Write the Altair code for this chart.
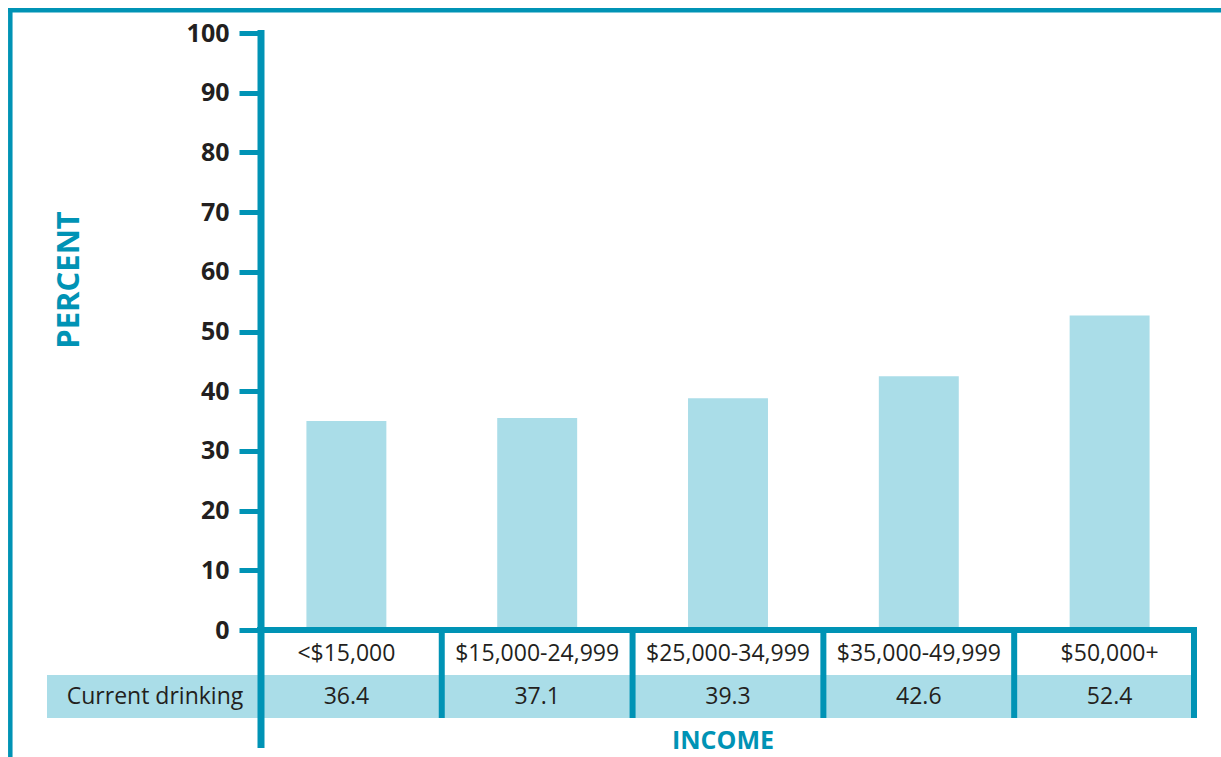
import altair as alt
import pandas as pd

# ---- data ----
categories = ["<$15,000", "$15,000-24,999", "$25,000-34,999", "$35,000-49,999", "$50,000+"]
bar_heights = [35.0, 35.5, 38.8, 42.5, 52.7]        # bar tops as drawn
table_values = ["36.4", "37.1", "39.3", "42.6", "52.4"]  # values printed in the table row
row_label = "Current drinking"
y_ticks = [0, 10, 20, 30, 40, 50, 60, 70, 80, 90, 100]

TEAL = "#0093B5"
LIGHT = "#AADDE8"
TEXT = "#231F20"
FONT = "Open Sans"

df = pd.DataFrame({
    "category": categories,
    "value": bar_heights,
    "label": table_values,
    "idx": list(range(len(categories))),
})

W, H = 934, 597
base = alt.Chart(df)
xs = alt.Scale(paddingInner=0.581, paddingOuter=0.238)
X = alt.X("category:N", sort=categories, scale=xs, axis=None)

# light blue table row
row_bg = base.mark_rect(color=LIGHT).encode(
    x=alt.value(-214), x2=alt.value(W), y=alt.value(642), y2=alt.value(685)
).transform_filter("datum.idx == 0")

bars = base.mark_bar(color=LIGHT).encode(
    x=X,
    y=alt.Y("value:Q", scale=alt.Scale(domain=[0, 100], nice=False),
            axis=alt.Axis(values=y_ticks, domain=False, grid=False, title=None,
                          tickColor=TEAL, tickWidth=5, tickSize=22,
                          labelFont=FONT, labelFontWeight="bold", labelFontSize=25,
                          labelColor=TEXT, labelPadding=10)),
)

# table separators between columns
seps = base.mark_rule(color=TEAL, strokeWidth=6, xOffset=55.4).encode(
    x=alt.X("category:N", sort=categories, scale=xs, axis=None, bandPosition=1),
    y=alt.value(H), y2=alt.value(685),
).transform_filter("datum.idx < 4")

right_border = base.mark_rule(color=TEAL, strokeWidth=6).encode(
    x=alt.value(W - 1), y=alt.value(H - 3), y2=alt.value(685)
).transform_filter("datum.idx == 0")

baseline = base.mark_rule(color=TEAL, strokeWidth=6).encode(
    x=alt.value(-4), x2=alt.value(W + 2), y=alt.value(H)
).transform_filter("datum.idx == 0")

y_axis_line = base.mark_rule(color=TEAL, strokeWidth=7).encode(
    x=alt.value(0), y=alt.value(-3), y2=alt.value(715)
).transform_filter("datum.idx == 0")

# outer frame (top and left)
frame_top = base.mark_rule(color=TEAL, strokeWidth=4.5).encode(
    x=alt.value(-253), x2=alt.value(960), y=alt.value(-22.7)
).transform_filter("datum.idx == 0")
frame_left = base.mark_rule(color=TEAL, strokeWidth=4.5).encode(
    x=alt.value(-250.7), y=alt.value(-25), y2=alt.value(730)
).transform_filter("datum.idx == 0")

cat_text = base.mark_text(font=FONT, fontSize=23, color=TEXT, baseline="middle").encode(
    x=X, y=alt.value(621), text="category:N"
)
val_text = base.mark_text(font=FONT, fontSize=23, color=TEXT, baseline="middle").encode(
    x=X, y=alt.value(664), text="label:N"
)
row_text = base.mark_text(font=FONT, fontSize=23, color=TEXT, baseline="middle").encode(
    x=alt.value(-106), y=alt.value(664), text=alt.value(row_label)
).transform_filter("datum.idx == 0")

percent_title = base.mark_text(font=FONT, fontSize=31, fontWeight="bold", color=TEAL,
                               angle=270, baseline="middle").encode(
    x=alt.value(-191), y=alt.value(247), text=alt.value("PERCENT")
).transform_filter("datum.idx == 0")
income_title = base.mark_text(font=FONT, fontSize=25, fontWeight="bold", color=TEAL,
                              baseline="middle").encode(
    x=alt.value(462), y=alt.value(708), text=alt.value("INCOME")
).transform_filter("datum.idx == 0")

chart = alt.layer(
    row_bg, bars, seps, right_border, baseline, y_axis_line, frame_top, frame_left,
    cat_text, val_text, row_text, percent_title, income_title
).properties(
    width=W, height=H,
    autosize=alt.AutoSizeParams(type="none"),
    padding={"left": 261, "top": 33, "right": 26, "bottom": 127},
    background="white",
).configure_view(stroke=None)

chart.save("out.html", embed_options={"renderer": "svg", "actions": False})
